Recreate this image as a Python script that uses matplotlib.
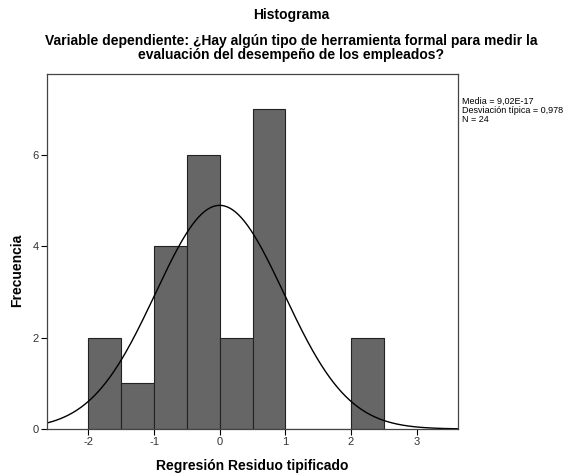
import numpy as np
import matplotlib.pyplot as plt

plt.rcParams['font.family'] = ['Liberation Sans', 'DejaVu Sans']
plt.rcParams['axes.unicode_minus'] = False

# histogram bins (standardized residuals) and counts
bin_edges = [-2.0, -1.5, -1.0, -0.5, 0.0, 0.5, 1.0, 1.5, 2.0, 2.5]
counts = [2, 1, 4, 6, 2, 7, 0, 0, 2]
media = 9.02e-17
desv = 0.978
n = 24

fig = plt.figure(figsize=(5.82, 4.74), dpi=100)
ax = fig.add_axes([47/582, 1-429/474, (458-47)/582, (429-74)/474])

lefts = bin_edges[:-1]
widths = np.diff(bin_edges)
ax.bar(lefts, counts, width=widths, align='edge', color='#666666',
       edgecolor='#222222', linewidth=0.8)

# normal curve scaled to counts
xs = np.linspace(-2.63, 3.63, 400)
bw = 0.5
ys = n * bw / (desv * np.sqrt(2*np.pi)) * np.exp(-0.5*((xs-media)/desv)**2)
ax.plot(xs, ys, color='black', linewidth=1.0)

ax.set_xlim(-2.63, 3.63)
ax.set_ylim(0, 7.77)
ax.set_xticks([-2, -1, 0, 1, 2, 3])
ax.set_yticks([0, 2, 4, 6])
ax.tick_params(labelsize=8, labelcolor='#333333', length=4, width=0.8, pad=2)
for s in ax.spines.values():
    s.set_color('#444444')
    s.set_linewidth(0.9)

fig.text(252/582, 1-466/474, 'Regresión Residuo tipificado', ha='center', va='center',
         fontsize=10, fontweight='bold')
fig.text(17/582, 1-270/474, 'Frecuencia', ha='center', va='center', rotation=90,
         fontsize=10, fontweight='bold')

fig.text(0.5, 1-15/474, 'Histograma', ha='center', va='center', fontsize=10, fontweight='bold')
fig.text(0.5, 1-48/474,
         'Variable dependiente: ¿Hay algún tipo de herramienta formal para medir la\n'
         'evaluación del desempeño de los empleados?',
         ha='center', va='center', fontsize=10, fontweight='bold', linespacing=0.95)

fig.text(462/582, 1-97/474,
         'Media = 9,02E-17\nDesviación típica = 0,978\nN = 24',
         ha='left', va='top', fontsize=6.5, linespacing=1.0)

fig.savefig('out.png', dpi=100)
